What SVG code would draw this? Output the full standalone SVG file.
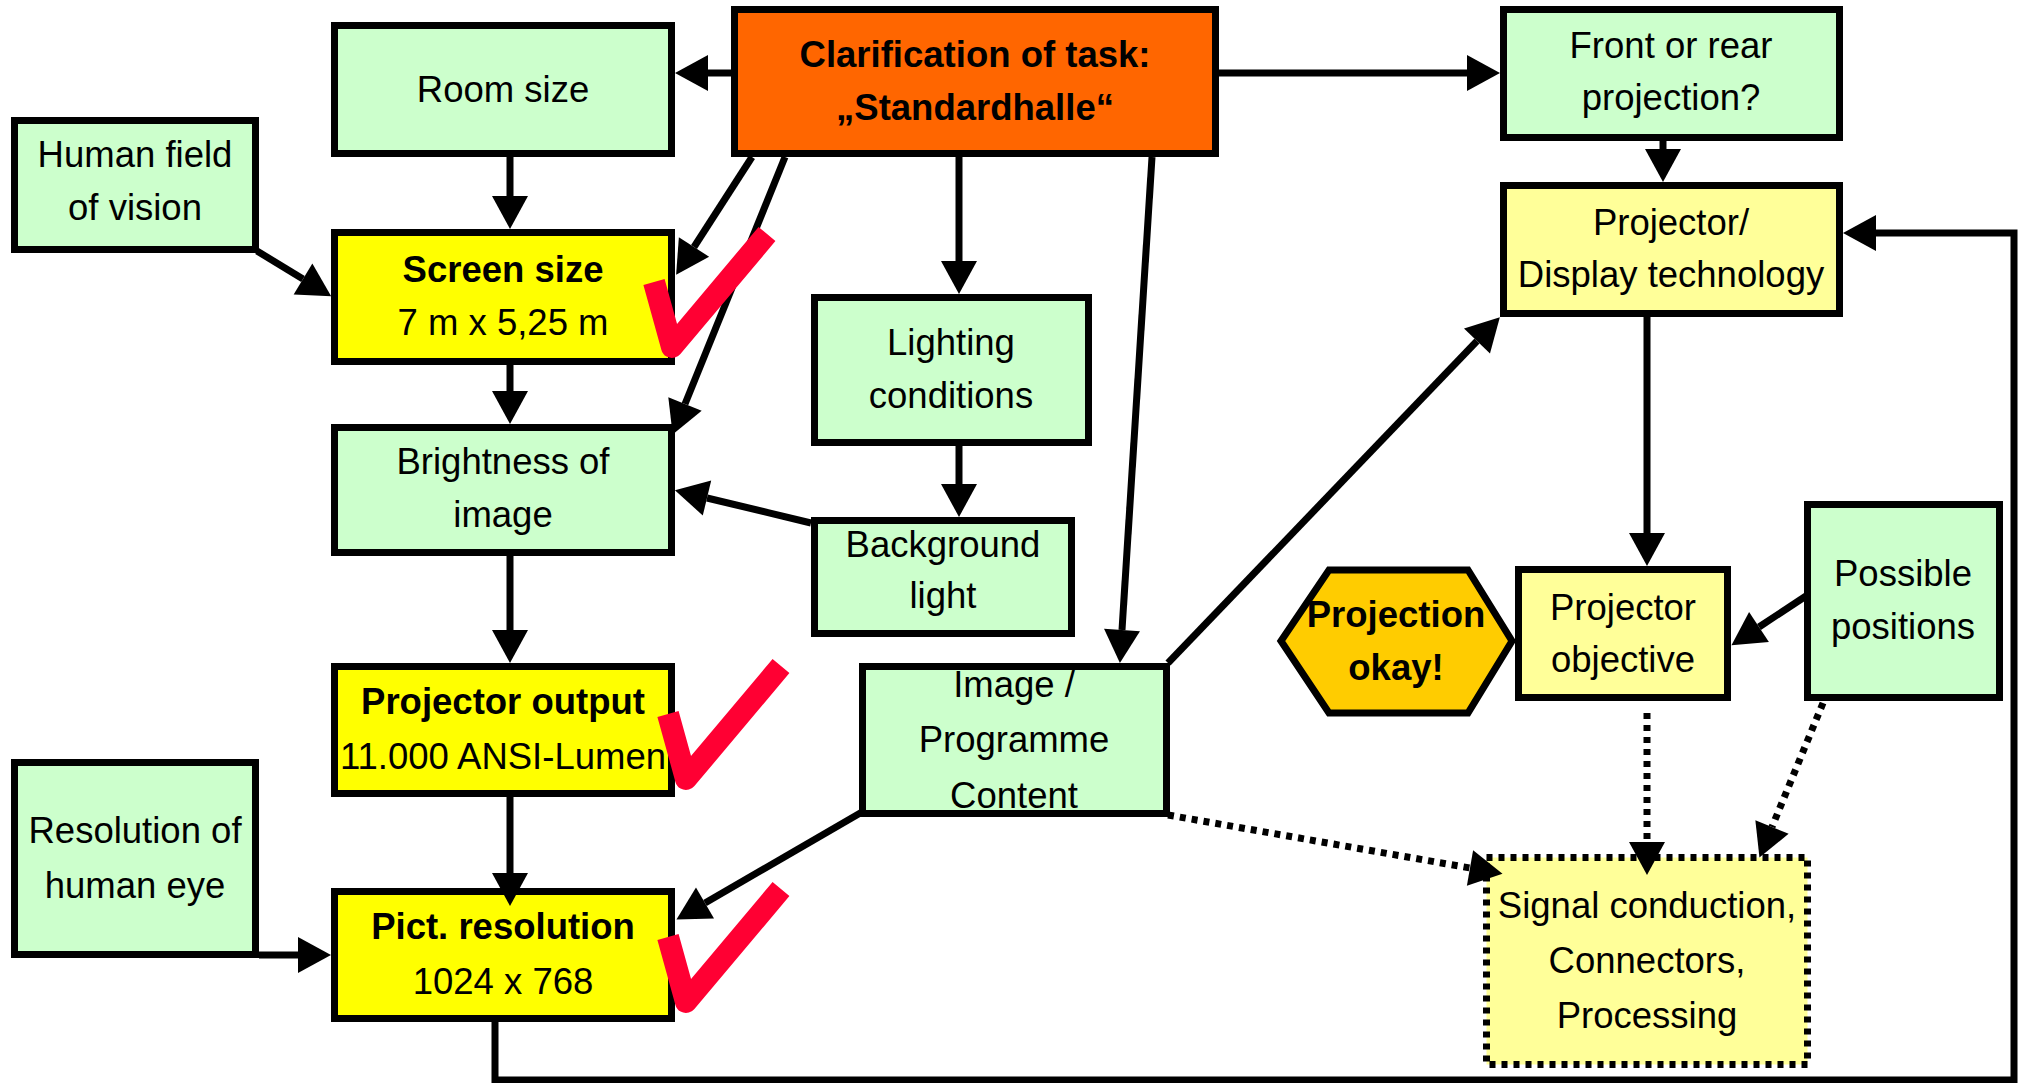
<svg xmlns="http://www.w3.org/2000/svg" width="2022" height="1083" viewBox="0 0 2022 1083">
  <defs>
    <marker id="ah" markerUnits="userSpaceOnUse" markerWidth="34" markerHeight="36" refX="0" refY="18" orient="auto" overflow="visible">
      <path d="M0,0 L33,18 L0,36 Z" fill="#000"/>
    </marker>
    <style>
      .box { stroke: #000; stroke-width: 7; }
      .green { fill: #CCFFCC; }
      .yellow { fill: #FFFF00; }
      .pale { fill: #FFFF99; }
      .orange { fill: #FF6600; }
      .gold { fill: #FFCC00; }
      .dotted { stroke-dasharray: 6 6; }
      text { font-family: "Liberation Sans", Arial, sans-serif; font-size: 36.5px; fill: #000; text-anchor: middle; }
      .b { font-weight: bold; }
      .conn line, .conn path { stroke: #000; stroke-width: 7; fill: none; }
      .conn .arrow { marker-end: url(#ah); }
      .conn .dot { stroke-dasharray: 6 6; }
      .check { fill: none; stroke: #FF0033; stroke-width: 22; stroke-linejoin: round; stroke-linecap: butt; }
    </style>
  </defs>

  <rect width="2022" height="1083" fill="#fff"/>

  <!-- nodes -->
  <g id="room-size">
    <rect class="box green" x="334.5" y="25.5" width="337" height="128"/>
    <text x="503" y="102">Room size</text>
  </g>
  <g id="clarification">
    <rect class="box orange" x="734.5" y="9.5" width="481" height="144"/>
    <text class="b" x="975" y="67">Clarification of task:</text>
    <text class="b" x="975" y="120">„Standardhalle“</text>
  </g>
  <g id="front-rear">
    <rect class="box green" x="1503.5" y="9.5" width="336" height="128"/>
    <text x="1671" y="58">Front or rear</text>
    <text x="1671" y="110">projection?</text>
  </g>
  <g id="human-field">
    <rect class="box green" x="14.5" y="120.5" width="241" height="129"/>
    <text x="135" y="167">Human field</text>
    <text x="135" y="220">of vision</text>
  </g>
  <g id="screen-size">
    <rect class="box yellow" x="334.5" y="232.5" width="337" height="129"/>
    <text class="b" x="503" y="282">Screen size</text>
    <text x="503" y="335">7 m x 5,25 m</text>
  </g>
  <g id="display-technology">
    <rect class="box pale" x="1503.5" y="185.5" width="336" height="128"/>
    <text x="1671" y="235">Projector/</text>
    <text x="1671" y="287">Display technology</text>
  </g>
  <g id="lighting">
    <rect class="box green" x="814.5" y="297.5" width="274" height="145"/>
    <text x="951" y="355">Lighting</text>
    <text x="951" y="408">conditions</text>
  </g>
  <g id="brightness">
    <rect class="box green" x="334.5" y="427.5" width="337" height="125"/>
    <text x="503" y="474">Brightness of</text>
    <text x="503" y="527">image</text>
  </g>
  <g id="background-light">
    <rect class="box green" x="814.5" y="520.5" width="257" height="113"/>
    <text x="943" y="557">Background</text>
    <text x="943" y="608">light</text>
  </g>
  <g id="projection-okay">
    <polygon class="box gold" points="1281,641 1329,570 1468,570 1512,641 1468,713 1329,713"/>
    <text class="b" x="1396" y="627">Projection</text>
    <text class="b" x="1396" y="680">okay!</text>
  </g>
  <g id="projector-objective">
    <rect class="box pale" x="1518.5" y="569.5" width="209" height="128"/>
    <text x="1623" y="620">Projector</text>
    <text x="1623" y="672">objective</text>
  </g>
  <g id="possible-positions">
    <rect class="box green" x="1807.5" y="504.5" width="192" height="193"/>
    <text x="1903" y="586">Possible</text>
    <text x="1903" y="639">positions</text>
  </g>
  <g id="projector-output">
    <rect class="box yellow" x="334.5" y="666.5" width="337" height="127"/>
    <text class="b" x="503" y="714">Projector output</text>
    <text x="503" y="769">11.000 ANSI-Lumen</text>
  </g>
  <g id="programme-content">
    <rect class="box green" x="862.5" y="666.5" width="304" height="147"/>
    <text x="1014" y="697">Image /</text>
    <text x="1014" y="752">Programme</text>
    <text x="1014" y="808">Content</text>
  </g>
  <g id="eye-resolution">
    <rect class="box green" x="14.5" y="762.5" width="241" height="192"/>
    <text x="135" y="843">Resolution of</text>
    <text x="135" y="898">human eye</text>
  </g>
  <g id="pict-resolution">
    <rect class="box yellow" x="334.5" y="891.5" width="337" height="127"/>
    <text class="b" x="503" y="939">Pict. resolution</text>
    <text x="503" y="994">1024 x 768</text>
  </g>
  <g id="signal-conduction">
    <rect class="box pale dotted" x="1486.5" y="857.5" width="321" height="207"/>
    <text x="1647" y="918">Signal conduction,</text>
    <text x="1647" y="973">Connectors,</text>
    <text x="1647" y="1028">Processing</text>
  </g>

  <!-- connectors -->
  <g id="connectors" class="conn">
    <line class="arrow" x1="731" y1="73" x2="708" y2="73"/>
    <line class="arrow" x1="1219" y1="73" x2="1467" y2="73"/>
    <line class="arrow" x1="510" y1="157" x2="510" y2="196"/>
    <line class="arrow" x1="257" y1="251" x2="303" y2="279"/>
    <line class="arrow" x1="752" y1="157" x2="694" y2="247"/>
    <line class="arrow" x1="785" y1="157" x2="685" y2="404"/>
    <line class="arrow" x1="959" y1="157" x2="959" y2="261"/>
    <line class="arrow" x1="1152" y1="157" x2="1122" y2="630"/>
    <line class="arrow" x1="1663" y1="141" x2="1663" y2="149"/>
    <line class="arrow" x1="510" y1="365" x2="510" y2="391"/>
    <line class="arrow" x1="959" y1="446" x2="959" y2="484"/>
    <line class="arrow" x1="811" y1="523" x2="707" y2="498"/>
    <line class="arrow" x1="510" y1="556" x2="510" y2="630"/>
    <line class="arrow" x1="1168" y1="663" x2="1477" y2="341"/>
    <line class="arrow" x1="1647" y1="317" x2="1647" y2="533"/>
    <line class="arrow" x1="1806" y1="596" x2="1759" y2="627"/>
    <line class="arrow" x1="510" y1="797" x2="510" y2="873"/>
    <line class="arrow" x1="259" y1="955" x2="298" y2="955"/>
    <line class="arrow" x1="862" y1="812" x2="705" y2="903"/>
    <path class="arrow" d="M495,1022 L495,1080 L2014,1080 L2014,233 L1876,233"/>
    <line class="arrow dot" x1="1168" y1="815" x2="1470" y2="868"/>
    <line class="arrow dot" x1="1647" y1="713" x2="1647" y2="842"/>
    <line class="arrow dot" x1="1823" y1="703" x2="1772" y2="827"/>
  </g>

  <!-- approval ticks -->
  <g id="ticks">
    <path class="check" d="M654,282 L672,347 L767,234"/>
    <path class="check" d="M668,714 L686,779 L781,666"/>
    <path class="check" d="M668,937 L686,1002 L781,889"/>
  </g>
</svg>
